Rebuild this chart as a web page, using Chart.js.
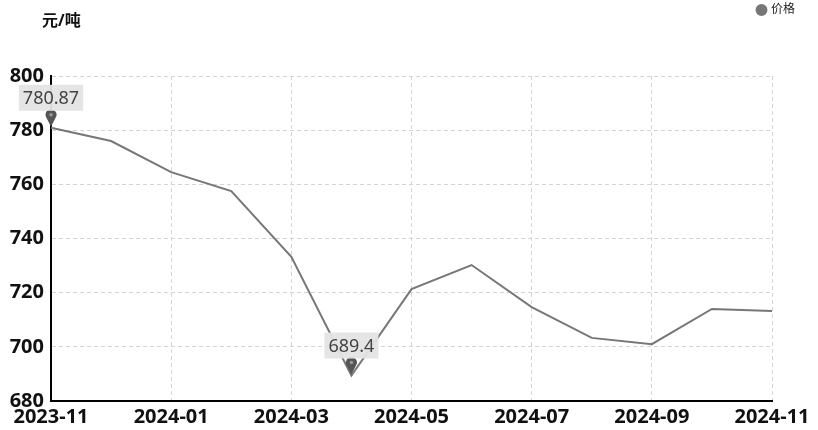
<!DOCTYPE html>
<html>
<head>
<meta charset="utf-8">
<script src="https://cdn.jsdelivr.net/npm/chart.js@4"></script>
<style>
  html, body { margin: 0; padding: 0; background: #fff; }
  #wrap { width: 818px; height: 430px; }
</style>
</head>
<body>
<div id="wrap"><canvas id="myChart" width="818" height="430"></canvas></div>
<script>
const months = ['2023-11', '2023-12', '2024-01', '2024-02', '2024-03', '2024-04', '2024-05',
                '2024-06', '2024-07', '2024-08', '2024-09', '2024-10', '2024-11'];
const prices = [780.87, 776.0, 764.5, 757.5, 733.2, 689.4, 721.3, 730.2, 714.7, 703.3, 701.0, 714.0, 713.2];
const yMin = 680, yMax = 800, yStep = 20;
const unit = '元/吨';
const seriesName = '价格';

const lineColor = '#777777';
const gridColor = '#d4d4d4';
const font = '"Noto Sans", "Noto Sans CJK SC", sans-serif';

// extra room under the legend
const legendGap = {
    id: 'legendGap',
    beforeInit(chart) {
        const fit = chart.legend.fit;
        chart.legend.fit = function () {
            fit.call(this);
            this.height += 50;
        };
    }
};

// max / min pins with value boxes
const markPoints = {
    id: 'markPoints',
    afterDatasetsDraw(chart) {
        const ctx = chart.ctx;
        const meta = chart.getDatasetMeta(0);
        const vals = chart.data.datasets[0].data;
        const iMax = vals.indexOf(Math.max(...vals));
        const iMin = vals.indexOf(Math.min(...vals));
        [iMax, iMin].forEach(i => {
            const p = meta.data[i];
            const x = p.x, y = p.y;
            ctx.save();
            // pin
            ctx.fillStyle = '#555';
            ctx.beginPath();
            ctx.arc(x, y - 13, 5.5, Math.PI * 0.8, Math.PI * 2.2);
            ctx.lineTo(x, y - 1);
            ctx.closePath();
            ctx.fill();
            ctx.fillStyle = '#999';
            ctx.beginPath();
            ctx.arc(x, y - 13, 1.8, 0, Math.PI * 2);
            ctx.fill();
            // label box
            const txt = String(vals[i]);
            ctx.font = '18px ' + font;
            const w = ctx.measureText(txt).width + 8;
            const h = 26;
            const by = y - 17 - h;
            ctx.fillStyle = 'rgba(228,228,228,0.95)';
            ctx.fillRect(x - w / 2, by, w, h);
            ctx.fillStyle = '#444';
            ctx.textAlign = 'center';
            ctx.textBaseline = 'middle';
            ctx.fillText(txt, x, by + h / 2 + 1);
            ctx.restore();
        });
        // unit label
        ctx.save();
        ctx.font = 'bold 16px ' + font;
        ctx.fillStyle = '#111';
        ctx.textAlign = 'left';
        ctx.textBaseline = 'middle';
        ctx.fillText(unit, 42, 21);
        ctx.restore();
    }
};

const ctx = document.getElementById('myChart').getContext('2d');
const myChart = new Chart(ctx, {
    type: 'line',
    data: {
        labels: months,
        datasets: [{
            label: seriesName,
            data: prices,
            borderColor: lineColor,
            backgroundColor: lineColor,
            borderWidth: 2,
            pointRadius: 0,
            pointHoverRadius: 0,
            tension: 0
        }]
    },
    options: {
        responsive: false,
        animation: false,
        layout: { padding: { top: 0, right: 19, left: 0, bottom: -3 } },
        plugins: {
            legend: {
                position: 'top',
                align: 'end',
                labels: {
                    usePointStyle: true,
                    pointStyle: 'circle',
                    boxWidth: 7,
                    boxHeight: 7,
                    color: '#222',
                    font: { size: 12, family: font },
                    padding: 4
                }
            },
            tooltip: { enabled: false }
        },
        scales: {
            x: {
                offset: false,
                border: { color: '#000', width: 2, dash: [4, 3] },
                grid: {
                    color: c => (c.index % 2 === 0 && c.index > 0) ? gridColor : 'rgba(0,0,0,0)',
                    drawTicks: false
                },
                afterFit: s => { s.paddingRight = 46; },
                ticks: {
                    autoSkip: false,
                    maxRotation: 0,
                    padding: 4,
                    color: '#111',
                    font: { size: 20, weight: 'bold', family: font },
                    callback: (v, i) => i % 2 === 0 ? months[i] : ''
                }
            },
            y: {
                min: yMin,
                max: yMax,
                border: { color: '#000', width: 2, dash: [4, 3] },
                grid: {
                    color: c => c.index === 0 ? 'rgba(0,0,0,0)' : gridColor,
                    drawTicks: false
                },
                afterFit: s => { s.width = 51; },
                ticks: {
                    stepSize: yStep,
                    padding: 7,
                    color: '#111',
                    font: { size: 20, weight: 'bold', family: font }
                }
            }
        }
    },
    plugins: [legendGap, markPoints]
});
</script>
</body>
</html>
